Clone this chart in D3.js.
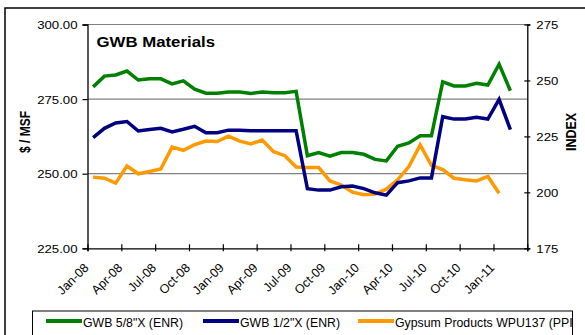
<!DOCTYPE html>
<html>
<head>
<meta charset="utf-8">
<script src="https://cdn.jsdelivr.net/npm/d3@7"></script>
<style>
  html, body { margin: 0; padding: 0; background: #fff; }
  svg { display: block; font-family: "Liberation Sans", Arial, sans-serif; }
</style>
</head>
<body>
<svg id="chart" width="585" height="335"></svg>
<script>
// Monthly categories on the x axis
const months = [
  "Jan-08","Feb-08","Mar-08","Apr-08","May-08","Jun-08","Jul-08","Aug-08","Sep-08","Oct-08","Nov-08","Dec-08",
  "Jan-09","Feb-09","Mar-09","Apr-09","May-09","Jun-09","Jul-09","Aug-09","Sep-09","Oct-09","Nov-09","Dec-09",
  "Jan-10","Feb-10","Mar-10","Apr-10","May-10","Jun-10","Jul-10","Aug-10","Sep-10","Oct-10","Nov-10","Dec-10",
  "Jan-11","Feb-11","Mar-11"
];

// GWB 5/8" price, $/MSF (left axis)
const gwb58 = [
  279.1, 282.7, 283.1, 284.4, 281.4, 281.8, 281.8, 280.1, 281.1, 278.3, 277.0, 277.0,
  277.4, 277.4, 276.9, 277.4, 277.1, 277.1, 277.6, 256.0, 257.1, 255.9, 257.1, 257.1,
  256.5, 254.8, 254.3, 259.2, 260.3, 262.7, 262.7, 280.8, 279.4, 279.4, 280.3, 279.7,
  286.7, 277.8
];

// GWB 1/2" price, $/MSF (left axis)
const gwb12 = [
  262.1, 265.2, 267.0, 267.5, 264.3, 264.8, 265.2, 264.0, 264.9, 265.9, 263.7, 263.7,
  264.6, 264.6, 264.4, 264.4, 264.4, 264.4, 264.4, 245.0, 244.5, 244.5, 245.6, 245.9,
  245.0, 243.6, 242.8, 247.0, 247.6, 248.6, 248.6, 269.1, 268.3, 268.3, 268.9, 268.3,
  274.9, 264.8
];

// Gypsum Products PPI WPU137 (right axis, index)
const gypsum = [
  206.8, 206.3, 204.1, 211.8, 208.3, 209.3, 210.4, 220.2, 218.8, 221.3, 222.9, 222.7,
  225.1, 222.9, 221.6, 223.4, 218.2, 216.4, 211.3, 211.1, 211.1, 205.1, 203.3, 200.1,
  198.9, 199.2, 201.4, 205.6, 211.5, 221.2, 212.1, 210.2, 206.3, 205.6, 205.1, 207.1,
  199.6
];

const leftTicks = [225, 250, 275, 300];
const rightTicks = [175, 200, 225, 250, 275];
const labelMonths = months.filter((d, i) => i % 3 === 0);

const seriesNames = ['GWB 5/8"X (ENR)', 'GWB 1/2"X (ENR)', 'Gypsum Products WPU137 (PPI)'];
const seriesColors = ["#008000", "#000080", "#FF9900"];

const svg = d3.select("#chart");
const SX = 1.2; // horizontal text stretch

const plot = { left: 87.5, right: 527.3, top: 24.5, bottom: 248.3 };

const x = d3.scaleLinear().domain([0, months.length]).range([plot.left, plot.right]);
const yL = d3.scaleLinear().domain([225, 300]).range([plot.bottom, plot.top]);
const yR = d3.scaleLinear().domain([175, 275]).range([plot.bottom, plot.top]);

// outer frame
svg.append("rect").attr("x", 5).attr("y", 8).attr("width", 600).attr("height", 400)
  .attr("fill", "#fff").attr("stroke", "#000").attr("stroke-width", 1.5);

// horizontal gridlines
svg.append("g").selectAll("line").data(leftTicks.filter(d => d > 225)).join("line")
  .attr("x1", plot.left).attr("x2", plot.right)
  .attr("y1", d => yL(d)).attr("y2", d => yL(d))
  .attr("stroke", "#808080").attr("stroke-width", 1.2);

// left axis
const gL = svg.append("g").attr("transform", `translate(${plot.left},0)`)
  .call(d3.axisLeft(yL).tickValues(leftTicks).tickSize(5).tickFormat(d3.format(".2f")));
gL.select(".domain").attr("stroke", "#000").attr("stroke-width", 1.3);
gL.selectAll(".tick line").attr("stroke", "#000").attr("stroke-width", 1.2);
gL.selectAll(".tick text")
  .attr("x", 0).attr("dy", "0.36em")
  .attr("transform", `translate(-10,0) scale(${SX},1)`)
  .attr("font-size", 11).attr("fill", "#000").attr("font-family", "Liberation Sans, Arial, sans-serif");

// right axis
const gR = svg.append("g").attr("transform", `translate(${plot.right},0)`)
  .call(d3.axisRight(yR).tickValues(rightTicks).tickSize(3).tickFormat(d3.format("d")));
gR.select(".domain").attr("stroke", "#000").attr("stroke-width", 1.3);
gR.selectAll(".tick line").attr("x1", -3).attr("x2", 3).attr("stroke", "#000").attr("stroke-width", 1.2);
gR.selectAll(".tick text")
  .attr("x", 0).attr("dy", "0.36em")
  .attr("transform", `translate(9,0) scale(${SX},1)`)
  .attr("font-size", 11).attr("fill", "#000").attr("font-family", "Liberation Sans, Arial, sans-serif");

// bottom axis: tick marks on category boundaries every 3 months
const gB = svg.append("g").attr("transform", `translate(0,${plot.bottom})`)
  .call(d3.axisBottom(x).tickValues(d3.range(0, months.length + 1, 3)).tickSize(3).tickFormat(""));
gB.select(".domain").attr("stroke", "#000").attr("stroke-width", 1.3);
gB.selectAll(".tick line").attr("y1", -4).attr("y2", 3).attr("stroke", "#000").attr("stroke-width", 1.2);

// rotated month labels centred on their category
svg.append("g").selectAll("text").data(labelMonths).join("text")
  .attr("transform", d => `translate(${x(months.indexOf(d) + 0.5) - 7},${plot.bottom + 17}) rotate(-45)`)
  .attr("text-anchor", "end").attr("dy", "0.36em")
  .attr("font-size", 12.5).attr("fill", "#000")
  .text(d => d);

// series lines
const lineL = d3.line().defined(d => d != null).x((d, i) => x(i + 0.5)).y(d => yL(d));
const lineR = d3.line().defined(d => d != null).x((d, i) => x(i + 0.5)).y(d => yR(d));

svg.append("path").datum(gypsum).attr("d", lineR)
  .attr("fill", "none").attr("stroke", seriesColors[2]).attr("stroke-width", 3.5).attr("stroke-linejoin", "miter");
svg.append("path").datum(gwb12).attr("d", lineL)
  .attr("fill", "none").attr("stroke", seriesColors[1]).attr("stroke-width", 3.5).attr("stroke-linejoin", "miter");
svg.append("path").datum(gwb58).attr("d", lineL)
  .attr("fill", "none").attr("stroke", seriesColors[0]).attr("stroke-width", 3.5).attr("stroke-linejoin", "miter");

// chart title
svg.append("text").attr("transform", `translate(96.5,46.5) scale(${SX},1)`)
  .attr("font-size", 14).attr("font-weight", "bold").text("GWB Materials");

// axis titles
svg.append("text").attr("transform", `translate(30,132) scale(${SX},1) rotate(-90)`)
  .attr("text-anchor", "middle").attr("font-size", 12).attr("font-weight", "bold").text("$ / MSF");
svg.append("text").attr("transform", `translate(576,132) scale(${SX},1) rotate(-90)`)
  .attr("text-anchor", "middle").attr("font-size", 12.5).attr("font-weight", "bold").text("INDEX");

// legend, its contents cut off at the box's right edge
svg.append("defs").append("clipPath").attr("id", "legend-clip")
  .append("rect").attr("x", 32.5).attr("y", 311).attr("width", 540).attr("height", 60);
const legend = svg.append("g");
legend.append("rect").attr("x", 32.5).attr("y", 311).attr("width", 540).attr("height", 60)
  .attr("fill", "#fff");
const legendBody = legend.append("g").attr("clip-path", "url(#legend-clip)");
const legendX = [46, 203, 358];
const items = legendBody.selectAll("g.item").data(seriesNames).join("g").attr("class", "item")
  .attr("transform", (d, i) => `translate(${legendX[i]},321)`);
items.append("line").attr("x1", 0).attr("x2", 36).attr("y1", 0).attr("y2", 0)
  .attr("stroke", (d, i) => seriesColors[i]).attr("stroke-width", 4);
items.append("text").attr("transform", `translate(37,5.5)`)
  .attr("font-size", 12.3).attr("fill", "#000").text(d => d);
legend.append("rect").attr("x", 32.5).attr("y", 311).attr("width", 540).attr("height", 60)
  .attr("fill", "none").attr("stroke", "#000").attr("stroke-width", 1);
</script>
</body>
</html>
